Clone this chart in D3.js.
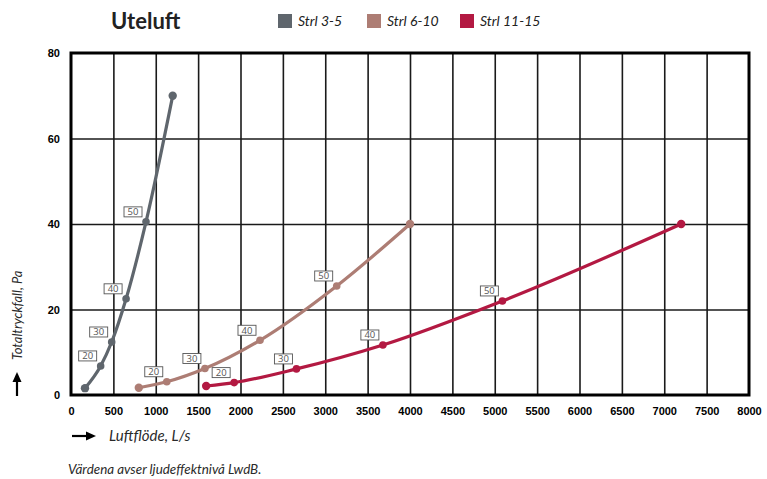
<!DOCTYPE html>
<html>
<head>
<meta charset="utf-8">
<script src="https://cdn.jsdelivr.net/npm/d3@7"></script>
<style>
  html, body { margin: 0; padding: 0; background: #fff; }
  svg { display: block; }
</style>
</head>
<body>
<svg id="chart" width="767" height="479"></svg>
<script>
// ---- data ----
const seriesNames = ["Strl 3-5", "Strl 6-10", "Strl 11-15"];
const seriesColors = ["#5f666d", "#ad7d74", "#b31942"];
const flowS1 = [165, 350, 480, 650, 885, 1200];
const pressS1 = [1.6, 6.8, 12.4, 22.5, 40.5, 70];
const flowS2 = [800, 1130, 1580, 2230, 3135, 4000];
const pressS2 = [1.7, 3.1, 6.2, 12.8, 25.5, 40];
const flowS3 = [1595, 1925, 2660, 3680, 5090, 7200];
const pressS3 = [2.1, 2.9, 6.1, 11.7, 22.0, 40];
const noiseLabels = [null, 20, 30, 40, 50, null];
const xTicks = [0, 500, 1000, 1500, 2000, 2500, 3000, 3500, 4000, 4500, 5000, 5500, 6000, 6500, 7000, 7500, 8000];
const yTicks = [0, 20, 40, 60, 80];
const titleText = "Uteluft";
const xTitle = "Luftflöde, L/s";
const yTitle = "Totaltryckfall, Pa";
const footnote = "Värdena avser ljudeffektnivå LwdB.";

const series = [
  { name: seriesNames[0], color: seriesColors[0], pts: flowS1.map((f, i) => ({ x: f, y: pressS1[i], lab: noiseLabels[i] })) },
  { name: seriesNames[1], color: seriesColors[1], pts: flowS2.map((f, i) => ({ x: f, y: pressS2[i], lab: noiseLabels[i] })) },
  { name: seriesNames[2], color: seriesColors[2], pts: flowS3.map((f, i) => ({ x: f, y: pressS3[i], lab: noiseLabels[i] })) }
];

// ---- layout ----
const svg = d3.select("#chart");
const L = 71, R = 749, T = 53, B = 395;
const x = d3.scaleLinear().domain([0, 8000]).range([L, R]);
const y = d3.scaleLinear().domain([0, 80]).range([B, T]);

// grid
const grid = svg.append("g");
grid.append("g")
  .attr("transform", `translate(0,${T})`)
  .call(d3.axisBottom(x).tickValues(xTicks.slice(1, -1)).tickSize(B - T).tickFormat(""))
  .call(g => g.select(".domain").remove())
  .call(g => g.selectAll("line").attr("stroke", "#1a1a1a").attr("stroke-width", 1.6));
grid.append("g")
  .attr("transform", `translate(${L},0)`)
  .call(d3.axisRight(y).tickValues(yTicks.slice(1, -1)).tickSize(R - L).tickFormat(""))
  .call(g => g.select(".domain").remove())
  .call(g => g.selectAll("line").attr("stroke", "#1a1a1a").attr("stroke-width", 1.6));

// frame
svg.append("rect")
  .attr("x", L).attr("y", T).attr("width", R - L).attr("height", B - T)
  .attr("fill", "none").attr("stroke", "#000").attr("stroke-width", 3);

// tick labels
const tickFont = "'Liberation Sans', Arial, sans-serif";
svg.append("g")
  .attr("transform", `translate(0,${B})`)
  .call(d3.axisBottom(x).tickValues(xTicks).tickSize(0).tickPadding(12).tickFormat(d3.format("d")))
  .call(g => g.select(".domain").remove())
  .call(g => g.selectAll("text").attr("font-family", tickFont).attr("font-weight", "bold").attr("font-size", 11).attr("fill", "#000"));
svg.append("g")
  .attr("transform", `translate(${L},0)`)
  .call(d3.axisLeft(y).tickValues(yTicks).tickSize(0).tickPadding(11).tickFormat(d3.format("d")))
  .call(g => g.select(".domain").remove())
  .call(g => g.selectAll("text").attr("font-family", tickFont).attr("font-weight", "bold").attr("font-size", 11).attr("fill", "#000"));

// lines
const line = d3.line().x(d => x(d.x)).y(d => y(d.y)).curve(d3.curveMonotoneX);
series.forEach(s => {
  const g = svg.append("g");
  g.append("path").datum(s.pts).attr("d", line)
    .attr("fill", "none").attr("stroke", s.color).attr("stroke-width", 3.2)
    .attr("stroke-linejoin", "round").attr("stroke-linecap", "round");
  g.selectAll("circle").data(s.pts).join("circle")
    .attr("cx", d => x(d.x)).attr("cy", d => y(d.y)).attr("r", (d, i) => (i === 0 || i === s.pts.length - 1) ? 4.2 : 3.8)
    .attr("fill", s.color);
});

// noise labels
const labFont = "'Open Sans', Lato, sans-serif";
series.forEach(s => {
  const lg = svg.append("g").selectAll("g").data(s.pts.filter(d => d.lab != null)).join("g")
    .attr("transform", d => `translate(${x(d.x) - 13},${y(d.y) - 10})`);
  lg.append("rect").attr("x", -9).attr("y", -5).attr("width", 18).attr("height", 10)
    .attr("fill", "#fff").attr("stroke", "#555").attr("stroke-width", 0.9);
  lg.append("text").attr("text-anchor", "middle").attr("dy", "0.36em")
    .attr("font-family", labFont).attr("font-size", 9.5).attr("fill", "#555")
    .text(d => d.lab);
});

// title
svg.append("text").attr("x", 111).attr("y", 29)
  .attr("font-family", "Lato, 'Noto Sans', sans-serif").attr("font-weight", "bold")
  .attr("font-size", 22).attr("fill", "#222").text(titleText);

// legend
const legX = [278, 367, 460];
series.forEach((s, i) => {
  svg.append("rect").attr("x", legX[i]).attr("y", 14).attr("width", 14).attr("height", 14).attr("fill", s.color);
  svg.append("text").attr("x", legX[i] + 20).attr("y", 25.5)
    .attr("font-family", "Lato, 'Noto Sans', sans-serif").attr("font-style", "italic")
    .attr("font-size", 14).attr("fill", "#222").text(s.name);
});

// axis titles with arrows
const arrowColor = "#000";
svg.append("line").attr("x1", 72).attr("y1", 436).attr("x2", 88).attr("y2", 436)
  .attr("stroke", arrowColor).attr("stroke-width", 2.2);
svg.append("path").attr("d", "M86,431.5 L96,436 L86,440.5 Z").attr("fill", arrowColor);
svg.append("text").attr("x", 109).attr("y", 440.5)
  .attr("font-family", "Lato, 'Noto Sans', sans-serif").attr("font-style", "italic")
  .attr("font-size", 15).attr("fill", "#2a2a2a").text(xTitle);
svg.append("line").attr("x1", 17).attr("y1", 396).attr("x2", 17).attr("y2", 380)
  .attr("stroke", arrowColor).attr("stroke-width", 2.2);
svg.append("path").attr("d", "M12.5,382 L17,372 L21.5,382 Z").attr("fill", arrowColor);
svg.append("text").attr("transform", "translate(21.5,360) rotate(-90)")
  .attr("font-family", "Lato, 'Noto Sans', sans-serif").attr("font-style", "italic")
  .attr("font-size", 13).attr("fill", "#2a2a2a").text(yTitle);

// footnote
svg.append("text").attr("x", 68).attr("y", 474)
  .attr("font-family", "Lato, 'Noto Sans', sans-serif").attr("font-style", "italic")
  .attr("font-size", 13.4).attr("fill", "#2a2a2a").text(footnote);
</script>
</body>
</html>
